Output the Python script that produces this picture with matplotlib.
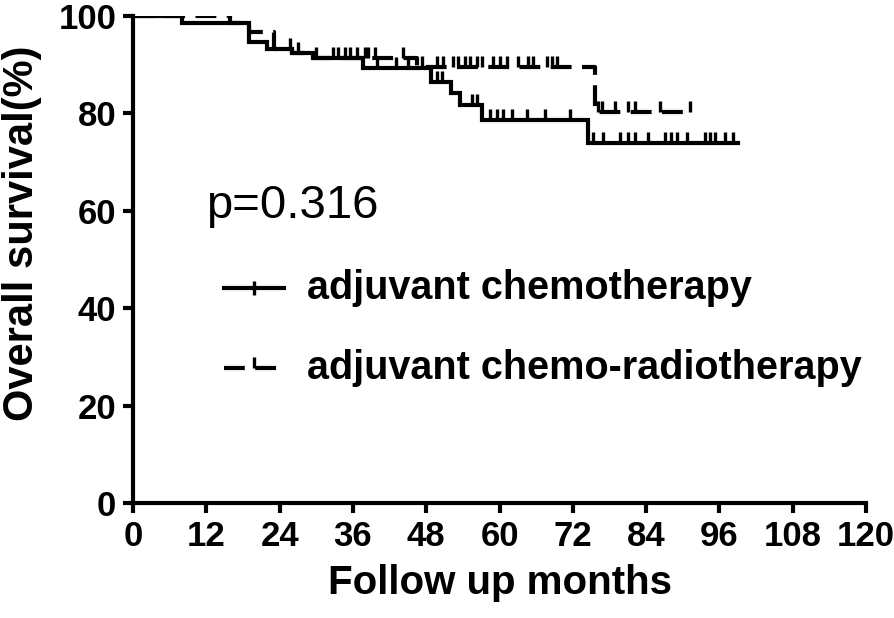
import matplotlib.pyplot as plt
import numpy as np

# step times (months) and survival (%) after each step
chemo_t = [0, 8, 19, 22, 26, 29.5, 37.7, 48.8, 52, 53.5, 57.2, 74.5]
chemo_s = [100, 98.5, 94.7, 93.2, 92.4, 91.4, 89.3, 86.5, 84.2, 81.8, 78.6, 73.9]
chemo_end = 99
chemo_cens = [25.7, 27, 30, 40, 43, 45, 49.8, 50.6, 55.5, 56.3, 58.5, 59.5, 60.5, 62,
              64.5, 67.5, 71.5, 75.3, 77, 79.7, 81, 82.2, 84.3, 87.1, 88, 89.1, 90.7,
              93.6, 94.5, 95.3, 96.9, 98.2]

crt_t = [0, 15.9, 19, 23, 26, 29.5, 46.5, 75.6]
crt_s = [100, 98.5, 96.7, 93.2, 92.4, 91.4, 89.6, 80.3]
crt_end = 91.5
crt_cens = [8, 32.7, 33.6, 34.7, 35.5, 36.7, 38, 38.5, 39.6, 44.2, 47.3, 49.8, 50.8,
            52.4, 53.2, 54.4, 55.2, 56.3, 57.1, 58.9, 60.1, 61.2, 63, 64.7, 65.5,
            67.8, 68.6, 69.4, 76.1, 76.8, 78.9, 81, 82.2, 86.3, 91.2]

xticks = np.arange(0, 121, 12)
yticks = np.arange(0, 101, 20)

plt.rcParams['font.family'] = ['Liberation Sans', 'DejaVu Sans']

fig = plt.figure(figsize=(8.94, 6.18), dpi=100)
ax = fig.add_axes([0.1488, 0.186, 0.82, 0.788])

LW = 3.0
DASH = (0, (5, 2.5))


def km(ax, t, s, end, cens, ls):
    tt = list(t) + [end]
    ss = list(s) + [s[-1]]
    ax.step(tt, ss, where='post', color='black', lw=LW, linestyle=ls,
            solid_joinstyle='miter')
    idx = np.searchsorted(t, cens, side='right') - 1
    cy = np.array(s)[idx]
    ax.plot(cens, cy, linestyle='none', marker=2, color='black', ms=8, mew=2.4)


km(ax, chemo_t, chemo_s, chemo_end, chemo_cens, '-')
km(ax, crt_t, crt_s, crt_end, crt_cens, DASH)

ax.set_xlim(0, 120)
ax.set_ylim(0, 100)
ax.set_xticks(xticks)
ax.set_yticks(yticks)
for sp in ['top', 'right']:
    ax.spines[sp].set_visible(False)
for sp in ['left', 'bottom']:
    ax.spines[sp].set_linewidth(LW)
ax.tick_params(width=LW, length=7, direction='out', pad=5)
for lab in ax.get_xticklabels() + ax.get_yticklabels():
    lab.set_fontweight('bold')
    lab.set_fontsize(25)

ax.set_xlabel('Follow up months', fontsize=29, fontweight='bold', labelpad=8)
ax.set_ylabel('Overall survival(%)', fontsize=30, fontweight='bold')
ax.yaxis.set_label_coords(-0.124, 0.555)

ax.text(12.0, 61, 'p=0.316', fontsize=34, ha='left', va='center')

# legend drawn by hand to match position
ax.plot([14.9, 24.7], [44.1, 44.1], color='black', lw=LW)
ax.plot([19.8], [44.1], marker='|', color='black', ms=10, mew=2.4)
ax.text(28.5, 44.1, 'adjuvant chemotherapy', fontsize=28.5, fontweight='bold', va='center')
ax.plot([14.9, 24.7], [27.7, 27.7], color='black', lw=LW, linestyle=DASH)
ax.plot([19.8], [27.7], marker=2, color='black', ms=8, mew=2.4)
ax.text(28.5, 27.7, 'adjuvant chemo-radiotherapy', fontsize=28.5, fontweight='bold', va='center')

fig.savefig('out.png', dpi=100)
